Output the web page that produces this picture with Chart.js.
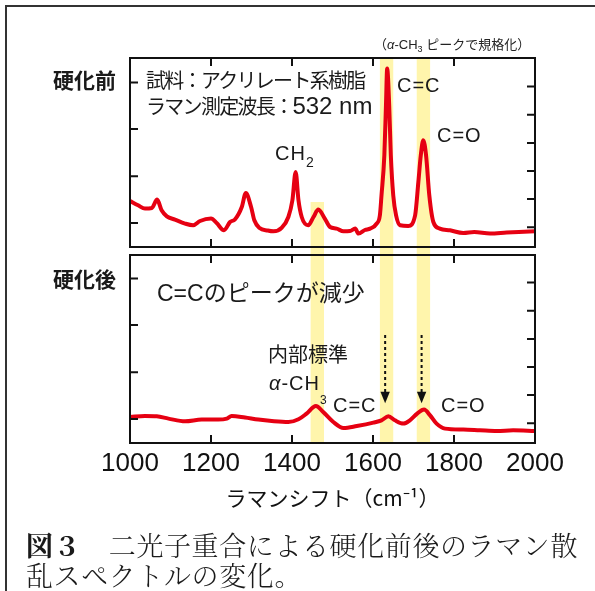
<!DOCTYPE html>
<html lang="ja">
<head>
<meta charset="utf-8">
<script src="https://cdn.jsdelivr.net/npm/chart.js@4.4.1/dist/chart.umd.min.js"></script>
<style>
  html, body { margin: 0; padding: 0; background: #fff; }
  #page { position: relative; width: 595px; height: 591px; overflow: hidden; }
  canvas { position: absolute; left: 0; top: 0; }
  .frame { position: absolute; left: 5px; top: 5px; width: 640px; height: 640px;
           border-left: 2px solid #333; border-top: 2px solid #333; }
  .t { position: absolute; white-space: nowrap; color: #1a1a1a;
       font-family: "Liberation Sans", "Noto Sans CJK JP", sans-serif; }
  .jp { font-family: "Noto Sans CJK JP", sans-serif; }
  .lat { font-size: 20px; line-height: 22px; letter-spacing: 1px; }
  .sub { position: relative; letter-spacing: 0; }
  .cap { font-family: "Noto Serif CJK JP", "Noto Sans CJK JP", serif; font-size: 27px;
         line-height: 30px; letter-spacing: 0.6px; font-weight: 300; }
</style>
</head>
<body>
<div id="page">
  <div class="frame"></div>
  <canvas id="before" width="595" height="591"></canvas>
  <canvas id="after" width="595" height="591"></canvas>

  <div class="t jp" style="left:53px;top:67px;font-size:21px;line-height:24px;font-weight:700">硬化前</div>
  <div class="t jp" style="left:53px;top:266px;font-size:21px;line-height:24px;font-weight:700">硬化後</div>

  <div class="t" style="left:374px;top:38px;font-size:13px;line-height:14px;color:#222">（<i>α</i>-CH<span class="sub" style="font-size:9px;top:3px">3</span> ピークで規格化）</div>
  <div class="t" style="left:146px;top:69px;font-size:20px;line-height:24px;letter-spacing:-1.7px">試料：アクリレート系樹脂</div>
  <div class="t" style="left:146px;top:94px;font-size:20px;line-height:24px;letter-spacing:-1.7px">ラマン測定波長：<span style="font-size:24px;letter-spacing:0">532 nm</span></div>
  <div class="t lat" style="left:275px;top:142px">CH<span class="sub" style="font-size:14px;top:7px">2</span></div>
  <div class="t lat" style="left:397px;top:74px">C=C</div>
  <div class="t lat" style="left:437px;top:124px">C=O</div>

  <div class="t" style="left:157px;top:280px;font-size:23px;line-height:26px">C=Cのピークが減少</div>
  <div class="t" style="left:268px;top:343px;font-size:20px;line-height:24px">内部標準</div>
  <div class="t lat" style="left:269px;top:372px;letter-spacing:1px"><i>α</i>-CH<span class="sub" style="font-size:12px;top:14px">3</span></div>
  <div class="t lat" style="left:333px;top:394px">C=C</div>
  <div class="t lat" style="left:441px;top:394px">C=O</div>

  <div class="t cap" style="left:26px;top:530px"><b style="font-weight:700">図３</b>　二光子重合による硬化前後のラマン散<br>乱スペクトルの変化。</div>
</div>

<script>
// Raman shift (cm-1) and intensity (a.u.)
const wnBefore = [1000,1020,1037,1054,1067,1078,1091,1111,1136,1156,1173,1200,1214,1232,1247,1259,1276,1286,1299,1307,
  1320,1340,1354,1375,1391,1401,1409,1416,1424,1440,1453,1465,1481,1494,1510,1527,1543,1556,1564,1580,
  1593,1609,1617,1621,1628,1632,1635,1640,1644,1650,1657,1667,1687,1704,1712,1718,1724,1731,1739,1749,
  1765,1790,1823,1850,1889,1930,1960,2000];
const intBefore = [46,41.7,38.4,39,47.4,36.7,30.7,27.4,23.4,21.7,26,28.4,24,16.7,25,27.5,40,54,40,26.7,
  19,16.5,15.7,19.4,30,46.7,75,46.7,30,21.7,30,37.4,28.4,20,18.4,15.7,16,18.4,13.4,17,
  18.4,23.4,31.7,51.7,91.7,141.7,178.4,141.7,91.7,51.7,31.7,21.7,21,31.7,65,91.7,106.7,91.7,51.7,25,
  18.4,16.7,14,15,13.4,14.4,15,15.7];

const wnAfter = [1000,1037,1066,1095,1136,1177,1218,1239,1251,1284,1317,1350,1391,1416,1436,1459,1477,1502,
  1527,1560,1601,1621,1638,1654,1675,1691,1709,1726,1741,1757,1778,1823,1864,1906,1946,2000];
const intAfter = [26,27,26.7,24.4,21.7,23.4,23.4,24.4,27,25.4,23.4,22,21,23.7,29.4,37,31,21,
  15,17,20.4,22.7,26.7,22.7,19.4,22.7,29.4,33.4,27.7,19.4,14.4,13.4,12.7,12,12.7,12];

// highlighted bands (cm-1): α-CH3, C=C, C=O
const bandRanges = [[1446, 1479], [1617, 1650], [1708, 1741]];
const bandStartBefore = [45, 189, 189];
const bandStartAfter = [188, 188, 188];

// tick positions on the intensity axes
const leftTicks = [24, 70.7, 118, 164.5];
const rightTicks = [19.7, 48, 76, 104, 132.3, 160.5];
const xMinorTicks = [1200, 1400, 1600, 1800];

// dotted arrows in the lower panel
const arrowWn = [1630, 1720];
const arrowFrom = 108;
const arrowTo = 39.7;

const red = '#e60012';
const bandColor = 'rgb(255, 245, 172)';
const ink = '#111';

const panelPlugin = {
  id: 'panel',
  beforeDatasetsDraw(chart, args, opts) {
    const { ctx, chartArea: a, scales: { x, y } } = chart;
    ctx.save();
    ctx.fillStyle = bandColor;
    bandRanges.forEach((r, i) => {
      const top = y.getPixelForValue(opts.bandStart[i]);
      const x0 = x.getPixelForValue(r[0]);
      const x1 = x.getPixelForValue(r[1]);
      ctx.fillRect(x0, top, x1 - x0, a.bottom + opts.extend - top);
    });
    ctx.restore();
  },
  afterDatasetsDraw(chart, args, opts) {
    const { ctx, chartArea: a, scales: { x, y } } = chart;
    ctx.save();
    ctx.strokeStyle = ink;
    ctx.fillStyle = ink;
    ctx.lineWidth = 2;
    ctx.strokeRect(a.left, a.top, a.right - a.left, a.bottom - a.top);

    ctx.beginPath();
    leftTicks.forEach(v => {
      const py = y.getPixelForValue(v);
      ctx.moveTo(a.left, py); ctx.lineTo(a.left + 8, py);
    });
    rightTicks.forEach(v => {
      const py = y.getPixelForValue(v);
      ctx.moveTo(a.right, py); ctx.lineTo(a.right - 8, py);
    });
    xMinorTicks.forEach(v => {
      const px = x.getPixelForValue(v);
      ctx.moveTo(px, a.top); ctx.lineTo(px, a.top + 8);
      ctx.moveTo(px, a.bottom); ctx.lineTo(px, a.bottom - 8);
    });
    ctx.stroke();

    if (opts.arrows) {
      opts.arrows.forEach(w => {
        const px = x.getPixelForValue(w);
        const y0 = y.getPixelForValue(arrowFrom);
        const y1 = y.getPixelForValue(arrowTo);
        ctx.setLineDash([3, 3]);
        ctx.beginPath();
        ctx.moveTo(px, y0); ctx.lineTo(px, y1 - 11);
        ctx.stroke();
        ctx.setLineDash([]);
        ctx.beginPath();
        ctx.moveTo(px - 4.7, y1 - 11.6);
        ctx.lineTo(px + 4.7, y1 - 11.6);
        ctx.lineTo(px, y1);
        ctx.closePath();
        ctx.fill();
      });
    }
    ctx.restore();
  }
};

function spectrum(wn, vals) {
  return {
    data: wn.map((w, i) => ({ x: w, y: vals[i] })),
    borderColor: red,
    borderWidth: 4,
    pointRadius: 0,
    cubicInterpolationMode: 'monotone',
    borderJoinStyle: 'round',
    borderCapStyle: 'round',
    fill: false
  };
}

new Chart(document.getElementById('before'), {
  type: 'line',
  data: { datasets: [spectrum(wnBefore, intBefore)] },
  options: {
    responsive: false,
    animation: false,
    devicePixelRatio: 1,
    layout: { padding: { left: 130, right: 60, top: 58, bottom: 344 } },
    scales: {
      x: { type: 'linear', min: 1000, max: 2000, display: false },
      y: { min: 0, max: 189, display: false }
    },
    plugins: {
      legend: { display: false },
      tooltip: { enabled: false },
      panel: { bandStart: bandStartBefore, extend: 9 }
    }
  },
  plugins: [panelPlugin]
});

new Chart(document.getElementById('after'), {
  type: 'line',
  data: { datasets: [spectrum(wnAfter, intAfter)] },
  options: {
    responsive: false,
    animation: false,
    devicePixelRatio: 1,
    layout: { padding: { left: 130, right: 60, top: 255, bottom: 68 } },
    scales: {
      x: {
        type: 'linear', min: 1000, max: 2000,
        grid: { display: false, drawTicks: false },
        border: { display: false },
        ticks: {
          stepSize: 200, maxRotation: 0, autoSkip: false, padding: 5, color: ink,
          font: { family: 'Liberation Sans', size: 26 },
          callback: v => String(v)
        },
        title: {
          display: true, text: 'ラマンシフト（cm⁻¹）', color: ink,
          font: { family: 'Noto Sans CJK JP', size: 21 },
          padding: { top: 0, bottom: 12 }
        },
        afterFit: s => { s.height = 80; }
      },
      y: { min: 0, max: 188, display: false }
    },
    plugins: {
      legend: { display: false },
      tooltip: { enabled: false },
      panel: { bandStart: bandStartAfter, extend: 1, arrows: arrowWn }
    }
  },
  plugins: [panelPlugin]
});
</script>
</body>
</html>
